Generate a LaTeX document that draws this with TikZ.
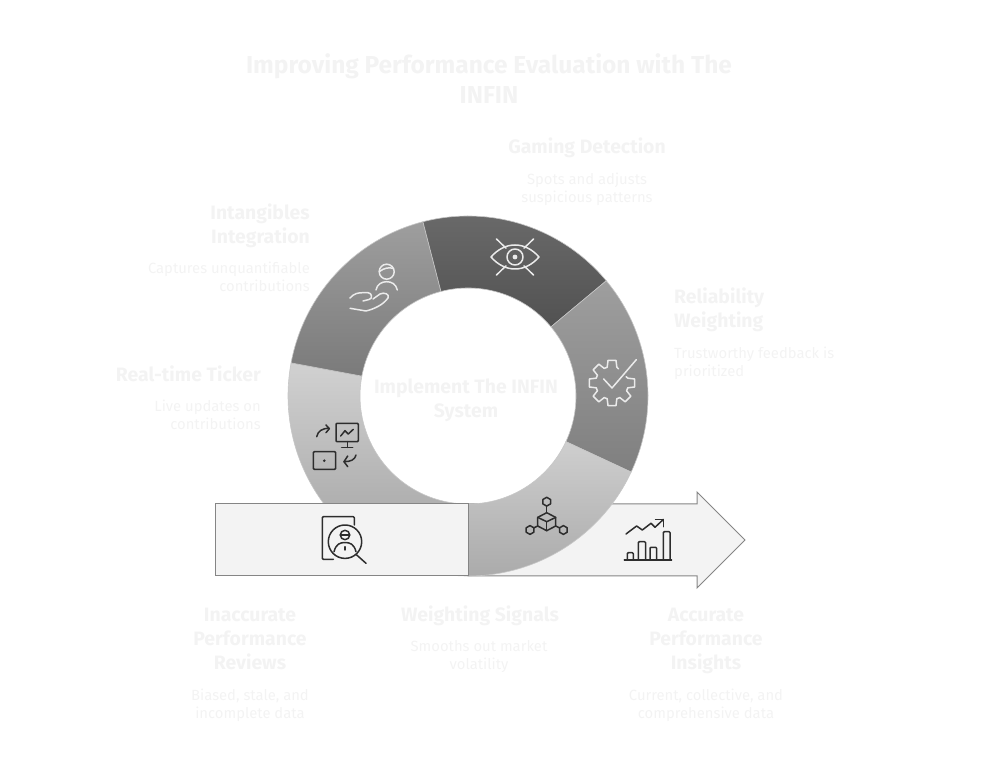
\documentclass[tikz,border=0pt]{standalone}
\usepackage{fontspec}
\setmainfont{Fira Sans}
\usepackage{xcolor}
\usepackage{tikz}
\usetikzlibrary{positioning}
\definecolor{faintink}{RGB}{243,243,243}
\definecolor{panelfill}{RGB}{243,243,243}
\definecolor{icondark}{RGB}{45,45,45}

\begin{document}
\begin{tikzpicture}[
    x=1pt, y=1pt,
    titlelbl/.style={text=faintink, align=center, inner sep=0pt,
                     font=\bfseries\fontsize{24.5}{30}\selectfont},
    headc/.style={text=faintink, align=center, inner sep=0pt,
                  font=\bfseries\fontsize{19.4}{24}\selectfont},
    headr/.style={headc, align=right, anchor=east},
    headl/.style={headc, align=left, anchor=west},
    descc/.style={text=faintink, align=center, inner sep=0pt,
                  font=\fontsize{14.8}{18}\selectfont},
    descr/.style={descc, align=right, anchor=east},
    descl/.style={descc, align=left, anchor=west},
    barbox/.style={rectangle, draw=black!48, line width=1pt, fill=panelfill,
                   inner sep=0pt, minimum width=253pt, minimum height=72pt},
    barline/.style={draw=black!48, line width=1pt, fill=panelfill, line join=miter},
    segment/.style={draw=black!22, line width=0.6pt},
    iconw/.style={draw=white!92!black, line width=1.5pt, line cap=round, line join=round},
    iconk/.style={draw=icondark, line width=1.5pt, line cap=round, line join=round},
]

\useasboundingbox (0,0) rectangle (984,768);

%% ─── arrow under the ring ────────────────────────────────────
\draw[barline] (468,264) -- (697,264) -- (697,276) -- (745,228)
    -- (697,180) -- (697,192) -- (468,192) -- cycle;

%% ─── ring ────────────────────────────────────────────────────
\begin{scope}[shift={(468,372)}]
\foreach \sa/\ea/\ctop/\cbot in {
    169.4/270/18/38,
    104.5/169.4/38/52,
    39.8/104.5/58/68,
    -25/39.8/38/50,
    -90/-25/19/33} {
  \path[segment, top color=black!\ctop, bottom color=black!\cbot]
      (\sa:180) arc[start angle=\sa, end angle=\ea, radius=180pt]
      -- (\ea:108) arc[start angle=\ea, end angle=\sa, radius=108pt] -- cycle;
}
\end{scope}

%% ─── bar on top of the ring ──────────────────────────────────
\node[barbox] (reviewbar) at (341.5,228) {};

%% ─── icons ───────────────────────────────────────────────────

% magnifier on document
\begin{scope}[shift={(345,228)}]
\draw[iconk, rounded corners=1pt] (9.3,15) -- (9.3,23.3) -- (-22.7,23.3)
    -- (-22.7,-19.3) -- (-11.7,-19.3);
\draw[iconk] (0,-1.7) circle (16.7);
\draw[iconk] (11.7,-15) -- (21,-23.3);
\draw[iconk] (0,5) circle (4.7);
\draw[iconk] (-4.7,5) -- (4.7,5);
\draw[iconk] (-11,-11.7) .. controls (-9,-4) and (-5,-2.5) .. (0,-2.5)
    .. controls (5,-2.5) and (9,-4) .. (11,-11.7);
\draw[iconk] (0,-6.7) -- (0,-10);
\end{scope}

% screens with arrows
\begin{scope}[shift={(335,322)}]
\draw[iconk, rounded corners=1pt] (1,4.3) rectangle (23.3,22.7);
\draw[iconk] (12.3,4.3) -- (12.3,-1.3);
\draw[iconk] (6.7,-1.3) -- (17.7,-1.3);
\draw[iconk] (5.7,10) -- (10,15.3) -- (13.3,12) -- (18.3,16.7);
\draw[iconk] (-18.3,9.3) .. controls (-17,15) and (-13,17.7) .. (-5.7,17.7);
\draw[iconk] (-9,21) -- (-5.7,17.3) -- (-9,13.3);
\draw[iconk, rounded corners=1pt] (-21.7,-5.7) rectangle (0.7,-23.3);
\fill[icondark] (-10.7,-14.7) circle (1.4);
\draw[iconk] (21,-9) .. controls (20,-13.5) and (16,-15.7) .. (9,-15.7);
\draw[iconk] (12.7,-10) -- (9,-15.7) -- (12.7,-20.7);
\end{scope}

% hand with person
\begin{scope}[shift={(372,478)}]
\draw[iconw] (14.7,18.3) circle (7.5);
\draw[iconw] (7.5,18.5) .. controls (12,22) and (17,23) .. (21.5,21.5);
\draw[iconw] (4,0) .. controls (5,6) and (10,8.3) .. (14.7,8.3)
    .. controls (19.5,8.3) and (24,6) .. (25.3,0);
\draw[iconw] (-22,-8) .. controls (-18,-3.5) and (-14,-2.5) .. (-8,-2.7) -- (-4,-2.7)
    .. controls (0,-2.7) and (1,-9) .. (-3,-9.5) -- (-9,-11);
\draw[iconw] (-22,-18.3) -- (-6,-21) .. controls (2,-19) and (11,-15) .. (16,-8)
    .. controls (18,-4) and (12,-2) .. (8,-4) -- (1,-9);
\end{scope}

% crossed eye
\begin{scope}[shift={(515,511)}]
\draw[iconw] (-24,0) .. controls (-10,16) and (10,16) .. (24,0)
    .. controls (10,-16) and (-10,-16) .. (-24,0) -- cycle;
\draw[iconw] (0,0) circle (8);
\fill[white!92!black] (0,0) circle (2.4);
\foreach \sx/\sy in {-1/1, 1/1, -1/-1, 1/-1}
  \draw[iconw] (18.5*\sx,18*\sy) -- (9*\sx,8.8*\sy);
\end{scope}

% gear with check
\begin{scope}[shift={(612,385)}]
\foreach \a in {90,135,180,225,270,315,360}
  \draw[iconw] (\a-17:16.5) -- (\a-10:23) -- (\a+10:23) -- (\a+17:16.5);
\foreach \a in {90,135,180,225,270,315}
  \draw[iconw] (\a+17:16.5) -- (\a+28:16.5);
\draw[iconw] (17:16.5) -- (24:15.5);
\draw[iconw] (73:16.5) -- (65:15.5);
\draw[iconw] (-8.3,4) -- (0,-5) -- (24.3,23.3);
\end{scope}

% cube network
\begin{scope}[shift={(546.7,246.3)}]
\foreach \hx/\hy in {0/20, -16.7/-8.3, 16.7/-8.3}
  \draw[iconk] (\hx,\hy) ++(90:4.4) -- ++(-30:4.4) -- ++(-90:4.4) -- ++(-150:4.4) -- ++(150:4.4) -- ++(90:4.4) -- cycle;
\draw[iconk] (0,9) -- (9,4.3) -- (9,-4.3) -- (0,-9) -- (-9,-4.3) -- (-9,4.3) -- cycle;
\draw[iconk] (-9,4.3) -- (0,0) -- (9,4.3);
\draw[iconk] (0,0) -- (0,-9);
\draw[iconk] (0,15.6) -- (0,9);
\draw[iconk] (-12.9,-6.2) -- (-9,-4.3);
\draw[iconk] (12.9,-6.2) -- (9,-4.3);
\end{scope}

% rising chart
\begin{scope}[shift={(648.3,228)}]
\draw[iconk] (-24,-20) -- (23.3,-20);
\draw[iconk, rounded corners=1pt] (-21,-20) -- (-21,-12.7) -- (-15,-12.7) -- (-15,-20);
\draw[iconk, rounded corners=1pt] (-10,-20) -- (-10,-1.7) -- (-2.7,-1.7) -- (-2.7,-20);
\draw[iconk, rounded corners=1pt] (1.7,-20) -- (1.7,-7.3) -- (8.3,-7.3) -- (8.3,-20);
\draw[iconk, rounded corners=1pt] (15,-20) -- (15,8.3) -- (21.7,8.3) -- (21.7,-20);
\draw[iconk] (-22.3,6) -- (-11.7,14) -- (-6,10) -- (2.7,16.7) -- (6.7,12.7) -- (15,20.5);
\draw[iconk] (7.3,20.7) -- (15,20.7) -- (15,13.3);
\end{scope}

%% ─── texts ───────────────────────────────────────────────────
\node[titlelbl] (title) at (489,689) {Improving Performance Evaluation with The\\INFIN};
\node[headc] (centrelbl) at (466,368) {Implement The INFIN\\System};

\node[headc] (gamhead) at (587,620) {Gaming Detection};
\node[descc] (gamdesc) at (587,579) {Spots and adjusts\\suspicious patterns};

\node[headr] (inthead) at (310,542) {Intangibles\\Integration};
\node[descr] (intdesc) at (310,491) {Captures unquantifiable\\contributions};

\node[headl] (relhead) at (674,458) {Reliability\\Weighting};
\node[descl] (reldesc) at (674,405) {Trustworthy feedback is\\prioritized};

\node[headr] (tckhead) at (261,394) {Real-time Ticker};
\node[descr] (tckdesc) at (261,353) {Live updates on\\contributions};

\node[headc] (inahead) at (250,129) {Inaccurate\\Performance\\Reviews};
\node[descc] (inadesc) at (250,63) {Biased, stale, and\\incomplete data};

\node[headc] (wgthead) at (480,152) {Weighting Signals};
\node[descc] (wgtdesc) at (479,111) {Smooths out market\\volatility};

\node[headc] (acchead) at (706,127.5) {Accurate\\Performance\\Insights};
\node[descc] (accdesc) at (706,63) {Current, collective, and\\comprehensive data};

\end{tikzpicture}
\end{document}
